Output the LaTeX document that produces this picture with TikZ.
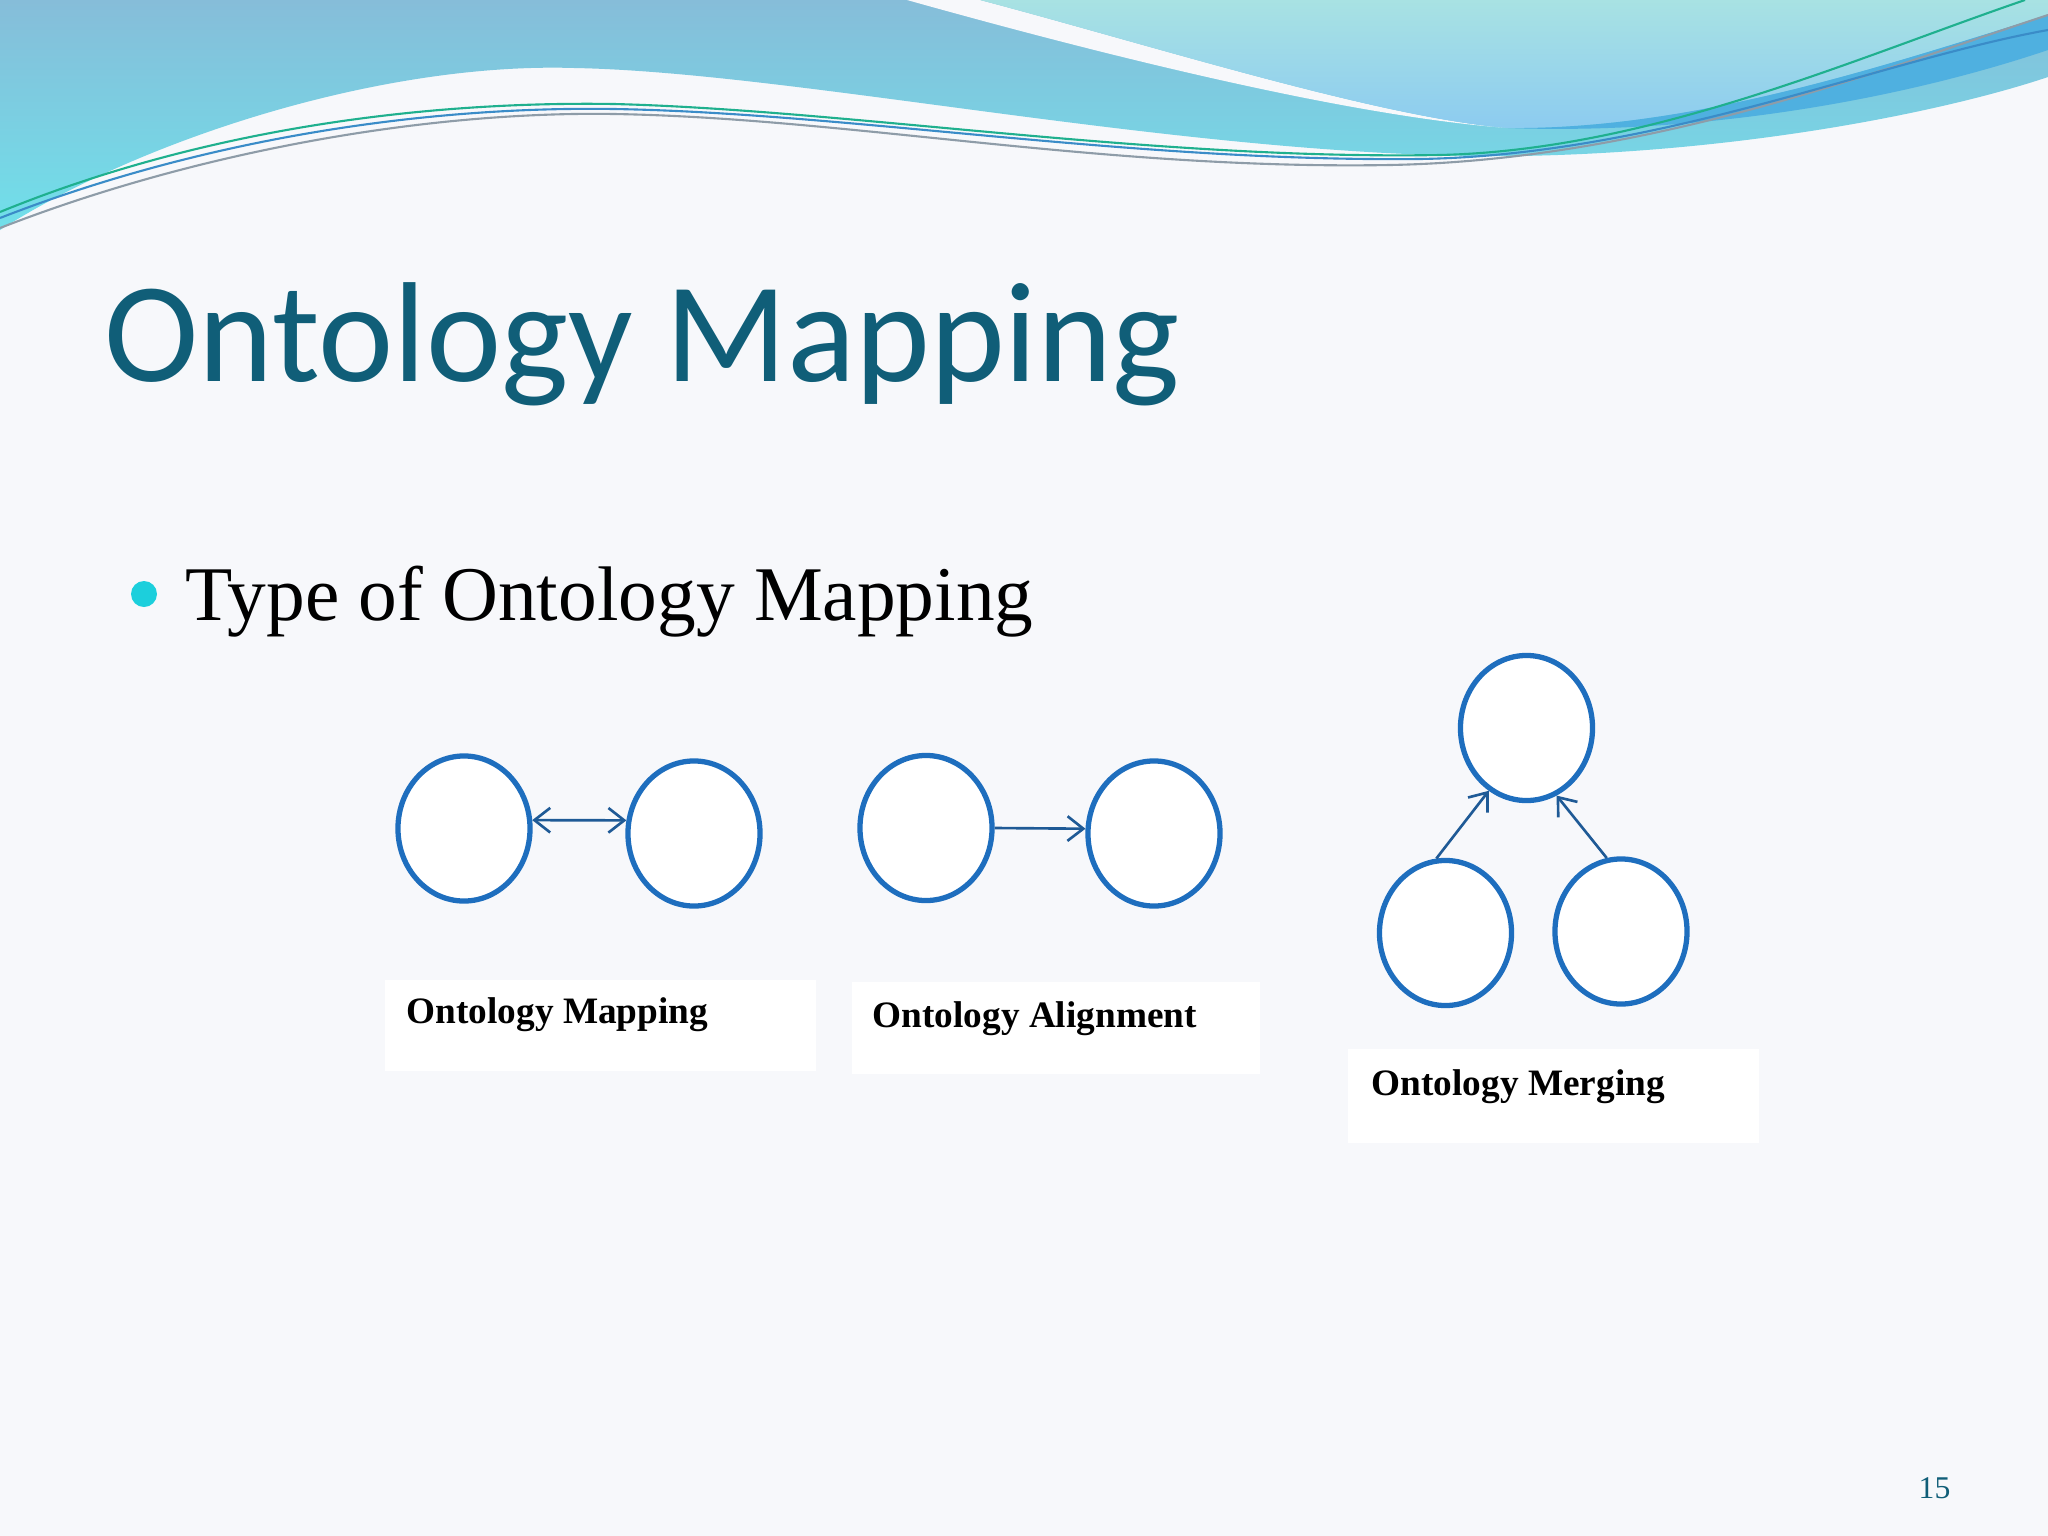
\documentclass[tikz,border=0pt]{standalone}
\usepackage{fontspec}
\setmainfont{Liberation Serif}
\newfontfamily\titlefont{Carlito}
\usetikzlibrary{arrows.meta,shapes.geometric}
\definecolor{bgcol}{HTML}{F7F8FB}
\definecolor{bandtop}{HTML}{86BDD9}
\definecolor{bandbot}{HTML}{70E0EA}
\definecolor{lighttop}{HTML}{A8E2E3}
\definecolor{lightbot}{HTML}{8CCBF0}
\definecolor{stripecol}{HTML}{4FB0E0}
\definecolor{titlecol}{HTML}{105E78}
\definecolor{bulletcol}{HTML}{1CCFDC}
\definecolor{circcol}{HTML}{1E6EBE}
\definecolor{arrcol}{HTML}{1F5A96}
\definecolor{lineA}{HTML}{1FB08E}
\definecolor{lineB}{HTML}{8E9CA8}
\definecolor{lineC}{HTML}{3A8CC8}
\tikzset{
  onto/.style={ellipse, draw=circcol, fill=white, line width=1.5pt,
    minimum width=1.32cm, minimum height=1.45cm, inner sep=0pt},
  conn/.style={draw=arrcol, line width=0.75pt,
    -{Straight Barb[length=4.5pt,width=7pt]}},
  dconn/.style={draw=arrcol, line width=0.75pt,
    {Straight Barb[length=4.5pt,width=7pt]}-{Straight Barb[length=4.5pt,width=7pt]}},
  lbl/.style={anchor=base west, inner sep=0pt, font=\bfseries\fontsize{10.6}{12}\selectfont},
  lblbox/.style={fill=white},
  wline/.style={line width=0.6pt}
}
\begin{document}
\begin{tikzpicture}[x=0.01cm,y=-0.01cm]
\useasboundingbox (0,0) rectangle (2048,1536);
\fill[bgcol] (0,0) rectangle (2048,1536);
% top wave: main band
\shade[top color=bandtop, bottom color=bandbot] (0,0) -- (2048,0) -- (2048,77)
  .. controls (1950,110) and (1750,152) .. (1520,156)
  .. controls (1200,160) and (800,72) .. (574,68)
  .. controls (380,62) and (140,140) .. (0,230) -- cycle;
% white sliver
\fill[bgcol] (907,0) .. controls (1050,40) and (1330,115) .. (1508,128)
  .. controls (1380,118) and (1150,45) .. (980,0) -- cycle;
% light region top right
\shade[top color=lighttop, bottom color=lightbot] (980,0)
  .. controls (1150,45) and (1380,118) .. (1508,128)
  .. controls (1700,130) and (1900,60) .. (2048,15) -- (2048,0) -- cycle;
% darker stripe
\fill[stripecol] (1508,128) .. controls (1700,130) and (1900,60) .. (2048,15)
  -- (2048,50) .. controls (1900,100) and (1700,135) .. (1508,128) -- cycle;
% thin lines
\draw[wline, lineB] (0,228) .. controls (200,150) and (430,111) .. (614,114)
  .. controls (850,118) and (1100,170) .. (1390,165)
  .. controls (1650,160) and (1880,70) .. (2048,15);
\draw[wline, lineC] (0,218) .. controls (200,140) and (420,106) .. (614,109)
  .. controls (850,113) and (1130,162) .. (1420,159)
  .. controls (1660,155) and (1880,60) .. (2048,30);
\draw[wline, lineA] (0,212) .. controls (200,130) and (420,101) .. (614,104)
  .. controls (850,110) and (1150,160) .. (1440,155)
  .. controls (1650,150) and (1850,60) .. (2025,0);
% title
\node[anchor=base west, inner sep=0pt, text=titlecol,
  font=\titlefont\fontsize{40.5}{48}\selectfont] (title) at (104,381) {Ontology Mapping};
% bullet
\fill[bulletcol] (144,594) circle (13);
\node[anchor=base west, inner sep=0pt, font=\fontsize{22}{26}\selectfont] (sub) at (185,620) {Type of Ontology Mapping};
% label boxes
\fill[lblbox] (385,980) rectangle (816,1071);
\fill[lblbox] (852,982) rectangle (1260,1074);
\fill[lblbox] (1348,1049) rectangle (1759,1143);
\node[lbl] (l1) at (406,1023) {Ontology Mapping};
\node[lbl] (l2) at (872,1027) {Ontology Alignment};
\node[lbl] (l3) at (1371,1095) {Ontology Merging};
% circles
\node[onto] (a1) at (464,828.5) {};
\node[onto] (a2) at (694,833.5) {};
\node[onto] (b1) at (926,828) {};
\node[onto] (b2) at (1154,833.5) {};
\node[onto] (c1) at (1526.5,728) {};
\node[onto] (c2) at (1445.5,933) {};
\node[onto] (c3) at (1621,931.5) {};
% connectors
\draw[dconn] (a1.7) -- (a2.169);
\draw[conn] (b1.0) -- (b2.176);
\draw[conn] (c2.97) -- (c1.239);
\draw[conn] (c3.101) -- (c1.294);
% page number
\node[anchor=base west, inner sep=0pt, text=titlecol, font=\fontsize{9}{11}\selectfont] (pg) at (1918,1498) {15};
\end{tikzpicture}
\end{document}
